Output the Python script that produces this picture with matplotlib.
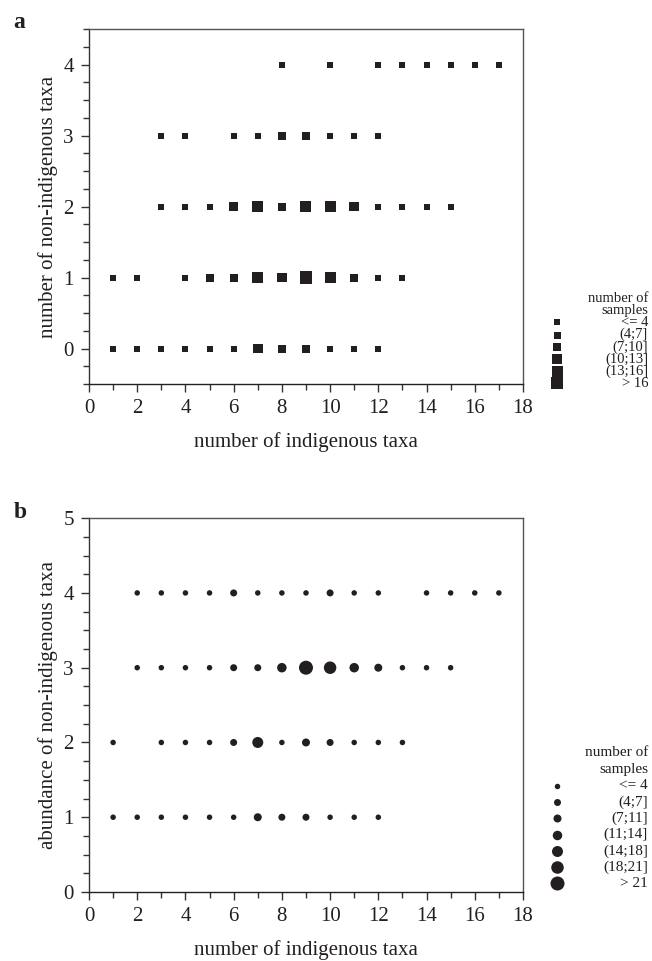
import numpy as np
import matplotlib
matplotlib.use("Agg")
import matplotlib.pyplot as plt
from matplotlib.ticker import MultipleLocator

plt.rcParams['font.family'] = ['Liberation Serif', 'DejaVu Serif']

# panel a: number of non-indigenous taxa vs number of indigenous taxa, value = number of samples
a_x = [8, 10, 12, 13, 14, 15, 16, 17,
       3, 4, 6, 7, 8, 9, 10, 11, 12,
       3, 4, 5, 6, 7, 8, 9, 10, 11, 12, 13, 14, 15,
       1, 2, 4, 5, 6, 7, 8, 9, 10, 11, 12, 13,
       1, 2, 3, 4, 5, 6, 7, 8, 9, 10, 11, 12]
a_y = [4] * 8 + [3] * 9 + [2] * 13 + [1] * 12 + [0] * 12
a_n = [1, 2, 1, 1, 2, 1, 1, 2,
       2, 3, 3, 4, 9, 8, 4, 3, 2,
       2, 3, 4, 12, 15, 9, 16, 15, 12, 3, 2, 1, 2,
       2, 1, 3, 8, 9, 16, 13, 18, 15, 9, 3, 2,
       1, 2, 3, 2, 3, 4, 12, 9, 9, 4, 3, 2]
a_bins = [4, 7, 10, 13, 16]
a_labels = ['<= 4', '(4;7]', '(7;10]', '(10;13]', '(13;16]', '> 16']

# panel b: abundance of non-indigenous taxa vs number of indigenous taxa
b_x = [2, 3, 4, 5, 6, 7, 8, 9, 10, 11, 12, 14, 15, 16, 17,
       2, 3, 4, 5, 6, 7, 8, 9, 10, 11, 12, 13, 14, 15,
       1, 3, 4, 5, 6, 7, 8, 9, 10, 11, 12, 13,
       1, 2, 3, 4, 5, 6, 7, 8, 9, 10, 11, 12]
b_y = [4] * 15 + [3] * 14 + [2] * 12 + [1] * 12
b_n = [2, 3, 2, 3, 6, 3, 2, 4, 6, 3, 2, 1, 2, 1, 1,
       3, 2, 3, 4, 6, 6, 13, 24, 20, 13, 9, 3, 2, 2,
       4, 3, 2, 4, 6, 16, 4, 9, 6, 3, 2, 2,
       2, 1, 2, 3, 2, 4, 9, 7, 6, 3, 2, 1]
b_bins = [4, 7, 11, 14, 18, 21]
b_labels = ['<= 4', '(4;7]', '(7;11]', '(11;14]', '(14;18]', '(18;21]', '> 21']

ink = '#231f20'
sq_px = [6, 7, 8, 9.5, 11, 12.5]          # square side per class, px
ci_px = [5.5, 7, 8, 9.5, 11, 12.5, 14]    # circle diameter per class, px

fig = plt.figure(figsize=(6.52, 9.61), dpi=100)


def px2s(px):
    return (px * 0.72) ** 2


def style(ax, ylo, yhi, ylabel):
    ax.set_xlim(0, 18)
    ax.set_ylim(ylo, yhi)
    ax.xaxis.set_major_locator(MultipleLocator(2))
    ax.xaxis.set_minor_locator(MultipleLocator(1))
    ax.yaxis.set_major_locator(MultipleLocator(1))
    ax.yaxis.set_minor_locator(MultipleLocator(0.25))
    ax.tick_params(which='major', direction='out', length=6, width=1, color='#333333',
                   labelsize=15, labelcolor=ink, pad=5)
    ax.tick_params(which='minor', direction='out', length=4, width=1, color='#333333')
    for s in ax.spines.values():
        s.set_color('#555555')
        s.set_linewidth(1)
    ax.spines['bottom'].set_color('#222222')
    ax.spines['left'].set_color('#333333')
    ax.set_xlabel('number of indigenous taxa', fontsize=15, color=ink, labelpad=10)
    ax.set_ylabel(ylabel, fontsize=15, color=ink, labelpad=4)


def legend(lx, ly_top, step, labels, sizes, marker, fs):
    fig.text(0.994, ly_top, 'number of', ha='right', va='center', fontsize=fs, color=ink)
    fig.text(0.994, ly_top - step, 'samples', ha='right', va='center', fontsize=fs, color=ink)
    for i, (lab, sz) in enumerate(zip(labels, sizes)):
        yy = ly_top - step * (i + 2)
        fig.text(0.994, yy, lab, ha='right', va='center', fontsize=fs, color=ink)
        lax.scatter([lx], [yy], s=px2s(sz), marker=marker, color=ink, linewidths=0)


# overlay axes for legend markers in figure coordinates
lax = fig.add_axes([0, 0, 1, 1], zorder=5)
lax.set_xlim(0, 1)
lax.set_ylim(0, 1)
lax.axis('off')

# panel a
axa = fig.add_axes([0.1365, 0.6004, 0.6656, 0.3694])
cls_a = np.digitize(a_n, a_bins, right=True)
axa.scatter(a_x, a_y, s=[px2s(sq_px[c]) for c in cls_a], marker='s', color=ink, linewidths=0)
style(axa, -0.5, 4.5, 'number of non-indigenous taxa')
fig.text(0.021, 0.977, 'a', fontsize=17, fontweight='bold', color=ink, va='center')
legend(0.855, 1 - 298 / 961, 12.2 / 961, a_labels, sq_px, 's', 10.5)

# panel b
axb = fig.add_axes([0.1365, 0.0718, 0.6656, 0.389])
cls_b = np.digitize(b_n, b_bins, right=True)
axb.scatter(b_x, b_y, s=[px2s(ci_px[c]) for c in cls_b], marker='o', color=ink, linewidths=0)
style(axb, 0, 5, 'abundance of non-indigenous taxa')
fig.text(0.021, 1 - 512 / 961, 'b', fontsize=17, fontweight='bold', color=ink, va='center')
legend(0.855, 1 - 753 / 961, 16.3 / 961, b_labels, ci_px, 'o', 11)

fig.savefig('out.png', dpi=100)
